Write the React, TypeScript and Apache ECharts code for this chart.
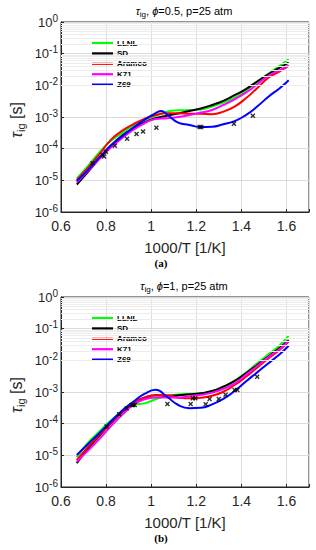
import React, { useEffect, useRef } from "react";
import * as echarts from "echarts";

const seriesNames = ["LLNL", "SD", "Aramco", "K71", "Z69"];
const seriesColors = ["#00ff00", "#000000", "#ff0000", "#ff00ff", "#0000ff"];
const decadeExps = [-6, -5, -4, -3, -2, -1, 0];
const minorMultipliers = [2, 3, 4, 5, 6, 7, 8, 9];

// 1000/T sample positions
const xGrid = [0.67, 0.72, 0.77, 0.82, 0.87, 0.92, 0.97, 1.02, 1.07, 1.12, 1.17, 1.22, 1.27, 1.32, 1.37, 1.42, 1.47, 1.52, 1.57, 1.61];

// ---- Panel (a): phi = 0.5, p = 25 atm ----
const llnlA = [1.15e-5, 2.88e-5, 7.59e-5, 1.74e-4, 3.09e-4, 5.37e-4, 8.13e-4, 1.1e-3, 1.48e-3, 1.62e-3, 1.66e-3, 1.74e-3, 2.14e-3, 2.88e-3, 4.07e-3, 6.92e-3, 1.29e-2, 2.34e-2, 4.17e-2, 6.76e-2];
const sdA = [7.41e-6, 1.86e-5, 4.9e-5, 1.23e-4, 2.57e-4, 4.37e-4, 6.76e-4, 9.12e-4, 1.1e-3, 1.29e-3, 1.55e-3, 1.86e-3, 2.4e-3, 3.24e-3, 4.9e-3, 7.59e-3, 1.32e-2, 2.24e-2, 3.63e-2, 5.25e-2];
const aramcoA = [1.02e-5, 2.51e-5, 6.61e-5, 1.86e-4, 3.63e-4, 5.89e-4, 8.71e-4, 1.15e-3, 1.32e-3, 1.32e-3, 1.26e-3, 1.26e-3, 1.23e-3, 1.48e-3, 2.14e-3, 3.89e-3, 8.13e-3, 1.74e-2, 2.75e-2, 4.17e-2];
const k71A = [8.71e-6, 2.0e-5, 4.68e-5, 1.07e-4, 2.14e-4, 3.89e-4, 6.31e-4, 8.71e-4, 9.12e-4, 1.0e-3, 1.15e-3, 1.38e-3, 1.66e-3, 2.4e-3, 3.63e-3, 5.89e-3, 1.07e-2, 2.0e-2, 3.02e-2, 4.17e-2];
const xZ69A = [0.67, 0.72, 0.77, 0.82, 0.87, 0.92, 0.97, 1.02, 1.045, 1.07, 1.12, 1.17, 1.22, 1.27, 1.32, 1.37, 1.42, 1.47, 1.52, 1.57, 1.61];
const z69A = [9.55e-6, 2.14e-5, 5.25e-5, 1.23e-4, 2.4e-4, 4.57e-4, 8.13e-4, 1.32e-3, 1.55e-3, 1.2e-3, 6.61e-4, 5.62e-4, 4.79e-4, 4.9e-4, 5.89e-4, 7.41e-4, 1.15e-3, 2.14e-3, 4.37e-3, 8.13e-3, 1.45e-2];
const expXA = [0.74, 0.784, 0.791, 0.799, 0.839, 0.893, 0.935, 0.964, 1.023, 1.215, 1.222, 1.367, 1.451];
const expYA = [3.47e-5, 6.31e-5, 5.62e-5, 7.94e-5, 1.23e-4, 2.04e-4, 2.88e-4, 3.47e-4, 4.57e-4, 4.79e-4, 4.79e-4, 6.17e-4, 1.1e-3];

// ---- Panel (b): phi = 1, p = 25 atm ----
const llnlB = [8.71e-6, 2.51e-5, 5.62e-5, 1.23e-4, 2.24e-4, 3.89e-4, 4.37e-4, 5.89e-4, 7.41e-4, 8.32e-4, 8.71e-4, 9.12e-4, 1.07e-3, 1.38e-3, 2.24e-3, 4.07e-3, 8.13e-3, 1.55e-2, 3.02e-2, 6.03e-2];
const sdB = [5.62e-6, 1.66e-5, 4.07e-5, 1.02e-4, 2.29e-4, 4.37e-4, 6.46e-4, 7.94e-4, 7.59e-4, 7.94e-4, 8.51e-4, 9.12e-4, 1.07e-3, 1.48e-3, 2.24e-3, 3.89e-3, 7.08e-3, 1.32e-2, 2.51e-2, 4.37e-2];
const aramcoB = [7.08e-6, 1.86e-5, 4.37e-5, 1.07e-4, 2.4e-4, 4.57e-4, 6.76e-4, 7.94e-4, 7.94e-4, 6.76e-4, 6.31e-4, 6.61e-4, 7.59e-4, 1.02e-3, 1.66e-3, 3.02e-3, 5.89e-3, 1.15e-2, 2.14e-2, 3.89e-2];
const k71B = [6.31e-6, 1.41e-5, 3.24e-5, 8.13e-5, 1.86e-4, 3.89e-4, 5.89e-4, 6.76e-4, 6.76e-4, 6.61e-4, 7.41e-4, 8.13e-4, 9.55e-4, 1.26e-3, 1.86e-3, 3.47e-3, 6.61e-3, 1.26e-2, 2.29e-2, 4.17e-2];
const z69B = [1.02e-5, 2.29e-5, 5.01e-5, 1.15e-4, 2.57e-4, 4.9e-4, 8.71e-4, 1.17e-3, 7.08e-4, 3.89e-4, 3.09e-4, 3.16e-4, 4.07e-4, 6.03e-4, 1.07e-3, 2.14e-3, 4.17e-3, 8.13e-3, 1.55e-2, 2.88e-2];
const expXB = [0.802, 0.858, 0.891, 0.913, 0.92, 0.927, 1.072, 1.175, 1.185, 1.196, 1.242, 1.259, 1.3, 1.33, 1.37, 1.382, 1.47];
const expYB = [8.13e-5, 2.0e-4, 3.02e-4, 3.89e-4, 3.89e-4, 3.89e-4, 4.17e-4, 4.17e-4, 6.31e-4, 6.31e-4, 4.07e-4, 6.03e-4, 6.03e-4, 8.13e-4, 1.15e-3, 1.15e-3, 3.02e-3];

const FONT = "'Liberation Sans', Arial, Helvetica, sans-serif";
const AXIS_COLOR = "#262626";
const X_SYMBOL = "path://M0,2L2,0L5,3L8,0L10,2L7,5L10,8L8,10L5,7L2,10L0,8L3,5Z";

const pair = (xs: number[], ys: number[]) => xs.map((x, i) => [x, ys[i]]);

const panels = [
  {
    top: 22,
    title: "{t|τ}{s|ig}{n|, }{t|ϕ}{n|=0.5, p=25 atm}",
    caption: "(a)",
    curves: [pair(xGrid, llnlA), pair(xGrid, sdA), pair(xGrid, aramcoA), pair(xGrid, k71A), pair(xZ69A, z69A)],
    exp: pair(expXA, expYA),
  },
  {
    top: 297,
    title: "{t|τ}{s|ig}{n|, }{t|ϕ}{n|=1, p=25 atm}",
    caption: "(b)",
    curves: [pair(xGrid, llnlB), pair(xGrid, sdB), pair(xGrid, aramcoB), pair(xGrid, k71B), pair(xGrid, z69B)],
    exp: pair(expXB, expYB),
  },
];

const GRID_LEFT = 61;
const GRID_W = 248;
const GRID_H = 190;

export default function App() {
  const ref = useRef<HTMLDivElement>(null);

  useEffect(() => {
    if (!ref.current) return;
    const chart = echarts.init(ref.current, null, { renderer: "svg" });

    const minorValues: number[] = [];
    decadeExps.slice(0, -1).forEach((e) => {
      minorMultipliers.forEach((m) => minorValues.push(m * Math.pow(10, e)));
    });

    const grids: any[] = [];
    const xAxes: any[] = [];
    const yAxes: any[] = [];
    const series: any[] = [];
    const legends: any[] = [];
    const graphics: any[] = [];

    panels.forEach((p, gi) => {
      grids.push({
        left: GRID_LEFT,
        top: p.top,
        width: GRID_W,
        height: GRID_H,
        show: true,
        borderColor: AXIS_COLOR,
        borderWidth: 1,
        backgroundColor: "#ffffff",
      });
      xAxes.push({
        type: "value",
        gridIndex: gi,
        min: 0.6,
        max: 1.7,
        interval: 0.2,
        axisLine: { show: true, lineStyle: { color: AXIS_COLOR } },
        axisTick: { show: true, inside: true, length: 3, lineStyle: { color: AXIS_COLOR } },
        splitLine: { show: true, lineStyle: { color: "#dedede", width: 1 } },
        axisLabel: {
          fontFamily: FONT,
          fontSize: 14,
          color: AXIS_COLOR,
          margin: 7,
          formatter: (v: number) => (Math.abs(v - 1.7) < 1e-6 ? "" : String(Math.round(v * 10) / 10)),
        },
        name: "1000/T [1/K]",
        nameLocation: "middle",
        nameGap: 28,
        nameTextStyle: { fontFamily: FONT, fontSize: 15, color: AXIS_COLOR },
      });
      yAxes.push({
        type: "log",
        gridIndex: gi,
        logBase: 10,
        min: 1e-6,
        max: 1,
        interval: 1,
        axisLine: { show: true, lineStyle: { color: AXIS_COLOR } },
        axisTick: { show: true, inside: true, length: 3, lineStyle: { color: AXIS_COLOR } },
        splitLine: { show: true, lineStyle: { color: "#dadada", width: 1 } },
        axisLabel: {
          margin: 3,
          formatter: (v: number) => `{b|10}{e|${Math.round(Math.log10(v))}}`,
          rich: {
            b: { fontFamily: FONT, fontSize: 13, color: AXIS_COLOR, lineHeight: 18 },
            e: { fontFamily: FONT, fontSize: 10, color: AXIS_COLOR, lineHeight: 10, verticalAlign: "top" },
          },
        },
      });

      // minor log grid lines
      series.push({
        type: "line",
        name: "_grid" + gi,
        xAxisIndex: gi,
        yAxisIndex: gi,
        data: [[0.6, 1e-6]],
        symbol: "none",
        lineStyle: { width: 0 },
        silent: true,
        z: 1,
        markLine: {
          silent: true,
          symbol: ["none", "none"],
          label: { show: false },
          lineStyle: { color: "#ececec", width: 1, type: "solid" },
          data: minorValues.map((v) => ({ yAxis: v })),
          animation: false,
        },
      });

      p.curves.forEach((data, si) => {
        series.push({
          type: "line",
          name: seriesNames[si],
          xAxisIndex: gi,
          yAxisIndex: gi,
          data,
          smooth: 0.5,
          symbol: "none",
          lineStyle: { color: seriesColors[si], width: 2 },
          itemStyle: { color: seriesColors[si] },
          z: 3,
        });
      });

      series.push({
        type: "scatter",
        name: "Exp" + gi,
        xAxisIndex: gi,
        yAxisIndex: gi,
        data: p.exp,
        symbol: X_SYMBOL,
        symbolSize: 5,
        itemStyle: { color: "#000000" },
        z: 4,
      });

      legends.push({
        data: seriesNames.map((n, i) => ({
          name: n,
          icon: "rect",
          itemStyle: { color: seriesColors[i] },
        })),
        orient: "vertical",
        left: 92,
        top: p.top + 17,
        padding: 0,
        itemWidth: 21,
        itemHeight: 2.2,
        itemGap: 2.4,
        selectedMode: false,
        textStyle: {
          fontFamily: FONT,
          fontSize: 8,
          fontWeight: "bold",
          color: "#000000",
          lineHeight: 8,
          padding: [0, 0, 0, -1],
        },
      });

      graphics.push({
        type: "text",
        x: 184,
        y: p.top - 11,
        style: {
          text: p.title,
          align: "center",
          verticalAlign: "middle",
          rich: {
            t: { fontFamily: FONT, fontSize: 11, fontStyle: "italic", fill: "#000", lineHeight: 14 },
            n: { fontFamily: FONT, fontSize: 11, fill: "#000", lineHeight: 14 },
            s: { fontFamily: FONT, fontSize: 8, fill: "#000", lineHeight: 8, verticalAlign: "bottom" },
          },
        },
      });
      graphics.push({
        type: "text",
        x: 16,
        y: p.top + 98,
        rotation: Math.PI / 2,
        style: {
          text: "{t|τ}{s|ig}{n| [s]}",
          align: "center",
          verticalAlign: "middle",
          rich: {
            t: { fontFamily: FONT, fontSize: 16, fontStyle: "italic", fill: AXIS_COLOR, lineHeight: 20 },
            n: { fontFamily: FONT, fontSize: 16, fill: AXIS_COLOR, lineHeight: 20 },
            s: { fontFamily: FONT, fontSize: 11, fill: AXIS_COLOR, lineHeight: 11, verticalAlign: "bottom" },
          },
        },
      });
      graphics.push({
        type: "text",
        x: 161,
        y: p.top + 241,
        style: {
          text: p.caption,
          align: "center",
          verticalAlign: "middle",
          font: "bold 11px 'Liberation Serif', 'Times New Roman', serif",
          fill: "#000",
        },
      });
    });

    chart.setOption({
      animation: false,
      backgroundColor: "#ffffff",
      grid: grids,
      xAxis: xAxes,
      yAxis: yAxes,
      legend: legends,
      series,
      graphic: graphics,
    });

    return () => chart.dispose();
  }, []);

  return (
    <div
      ref={ref}
      style={{ position: "fixed", left: 0, top: 0, width: 316, height: 550, background: "#fff" }}
    />
  );
}
